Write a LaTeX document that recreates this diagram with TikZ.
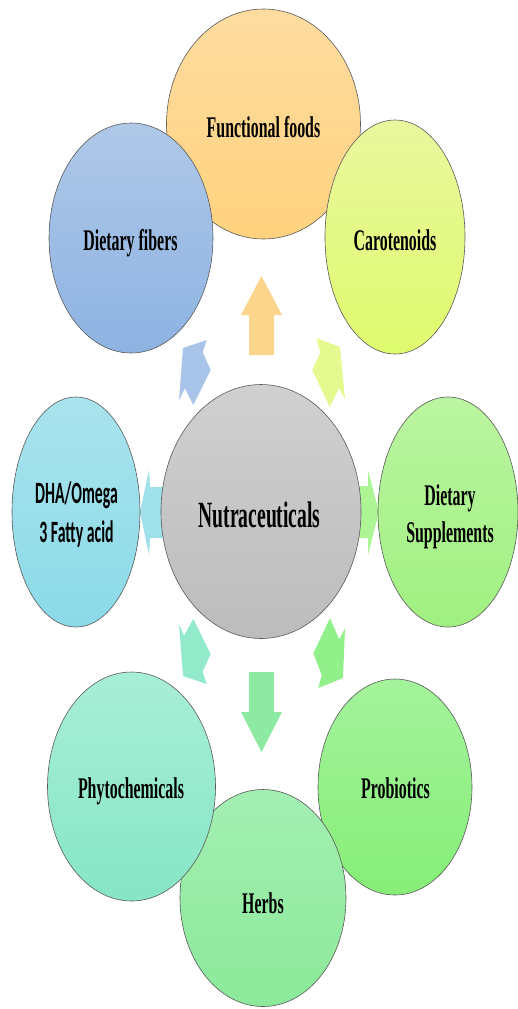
\documentclass[tikz,border=0pt]{standalone}
\usepackage{fontspec}
\usepackage{graphicx}
\setmainfont{Liberation Serif}
\newfontfamily\dhafont{Carlito}
\usetikzlibrary{shapes.geometric}
\newcommand{\sqz}[1]{\scalebox{0.53}[1]{#1}}
\definecolor{ffT}{HTML}{FEDCA0}
\definecolor{ffB}{HTML}{FFD27E}
\definecolor{dfT}{HTML}{AFC8E8}
\definecolor{dfB}{HTML}{8DB3E2}
\definecolor{caT}{HTML}{EAF79E}
\definecolor{caB}{HTML}{DFFB6E}
\definecolor{nuT}{HTML}{D0D0D0}
\definecolor{nuB}{HTML}{BCBCBC}
\definecolor{dhT}{HTML}{A9E3ED}
\definecolor{dhB}{HTML}{8BDAE8}
\definecolor{dsT}{HTML}{BBF5A1}
\definecolor{dsB}{HTML}{A0F081}
\definecolor{phT}{HTML}{A8EED6}
\definecolor{phB}{HTML}{86E6C6}
\definecolor{heT}{HTML}{A3EFB2}
\definecolor{heB}{HTML}{8CE99A}
\definecolor{prT}{HTML}{A4F39C}
\definecolor{prB}{HTML}{86EE77}
\definecolor{aUp}{HTML}{FDD48B}
\definecolor{aUL}{HTML}{A8C4E8}
\definecolor{aUR}{HTML}{E4FA90}
\definecolor{aL}{HTML}{9FE0EB}
\definecolor{aR}{HTML}{ADF594}
\definecolor{aLL}{HTML}{93EACB}
\definecolor{aD}{HTML}{8EE9A3}
\definecolor{aLR}{HTML}{92F08A}
\begin{document}
\begin{tikzpicture}[x=1pt,y=-1pt,
  circ/.style={ellipse, draw=black!65, line width=0.6pt, inner sep=0pt},
  lab/.style={font=\bfseries\fontsize{30}{37}\selectfont, inner sep=0pt, align=center, text=black}]
\useasboundingbox (0,0) rectangle (517,1009);
% block arrows (behind the circles)
\fill[aUp] (249,355) -- (249,315) -- (241,315) -- (261.5,276) -- (282,315) -- (274,315) -- (274,355) -- cycle;
\fill[aD] (249,672) -- (249,712) -- (241,712) -- (261.5,752) -- (282,712) -- (274,712) -- (274,672) -- cycle;
\fill[aL] (172,487) -- (150,487) -- (149,470) -- (140,512) -- (149,555) -- (150,538) -- (172,538) -- cycle;
\fill[aR] (352,486) -- (368,486) -- (368,470) -- (379,512) -- (368,555) -- (368,538) -- (352,538) -- cycle;
\fill[aUL] (183,348) -- (206.7,340) -- (202.7,352.3) -- (210.7,370) -- (193.3,405) -- (185,388.3) -- (179,400) -- cycle;
\fill[aUR] (340,347) -- (316.3,338) -- (320.3,352.3) -- (312.3,370) -- (329.7,407) -- (339,388.3) -- (345,399) -- cycle;
\fill[aLL] (183,676) -- (206.7,684) -- (202.7,671.7) -- (210.7,654) -- (193.3,619) -- (184,635.7) -- (179,624) -- cycle;
\fill[aLR] (343,678) -- (318.3,688) -- (321.7,675) -- (313.3,653.3) -- (330,618.3) -- (339.3,639.3) -- (345,628.3) -- cycle;
% circles, in drawing order
\node[circ, minimum width=194pt, minimum height=230pt, top color=ffT, bottom color=ffB] (ff) at (263.5,124) {};
\node[circ, minimum width=140pt, minimum height=234pt, top color=caT, bottom color=caB] (ca) at (395,237) {};
\node[circ, minimum width=140pt, minimum height=230pt, top color=dsT, bottom color=dsB] (ds) at (448,512) {};
\node[circ, minimum width=154pt, minimum height=216pt, top color=prT, bottom color=prB] (pr) at (395,787) {};
\node[circ, minimum width=166pt, minimum height=217pt, top color=heT, bottom color=heB] (he) at (263,898) {};
\node[circ, minimum width=168pt, minimum height=229pt, top color=phT, bottom color=phB] (ph) at (131.5,786.5) {};
\node[circ, minimum width=128pt, minimum height=230pt, top color=dhT, bottom color=dhB] (dh) at (76,512) {};
\node[circ, minimum width=164pt, minimum height=230pt, top color=dfT, bottom color=dfB] (df) at (131,238) {};
\node[circ, minimum width=200pt, minimum height=254pt, top color=nuT, bottom color=nuB] (nu) at (261,511.5) {};
% labels
\node[lab, anchor=base] (tff) at (263.5,137) {\sqz{Functional foods}};
\node[lab, anchor=base] (tdf) at (130.5,250) {\sqz{Dietary fibers}};
\node[lab, anchor=base] (tca) at (395,250) {\sqz{Carotenoids}};
\node[lab, anchor=base, font=\bfseries\fontsize{37}{40}\selectfont] (tnu) at (259.5,527) {\sqz{Nutraceuticals}};
\node[lab, anchor=base, font=\dhafont\bfseries\fontsize{31}{39}\selectfont] (tdh) at (76.5,542) {\scalebox{0.51}[1]{DHA/Omega}\\\scalebox{0.51}[1]{3 Fatty acid}};
\node[lab, anchor=base] (tds) at (450,542) {\sqz{Dietary}\\\sqz{Supplements}};
\node[lab, anchor=base] (tph) at (131,798) {\sqz{Phytochemicals}};
\node[lab, anchor=base] (the) at (263,913) {\sqz{Herbs}};
\node[lab, anchor=base] (tpr) at (395.5,798) {\sqz{Probiotics}};
\end{tikzpicture}
\end{document}
